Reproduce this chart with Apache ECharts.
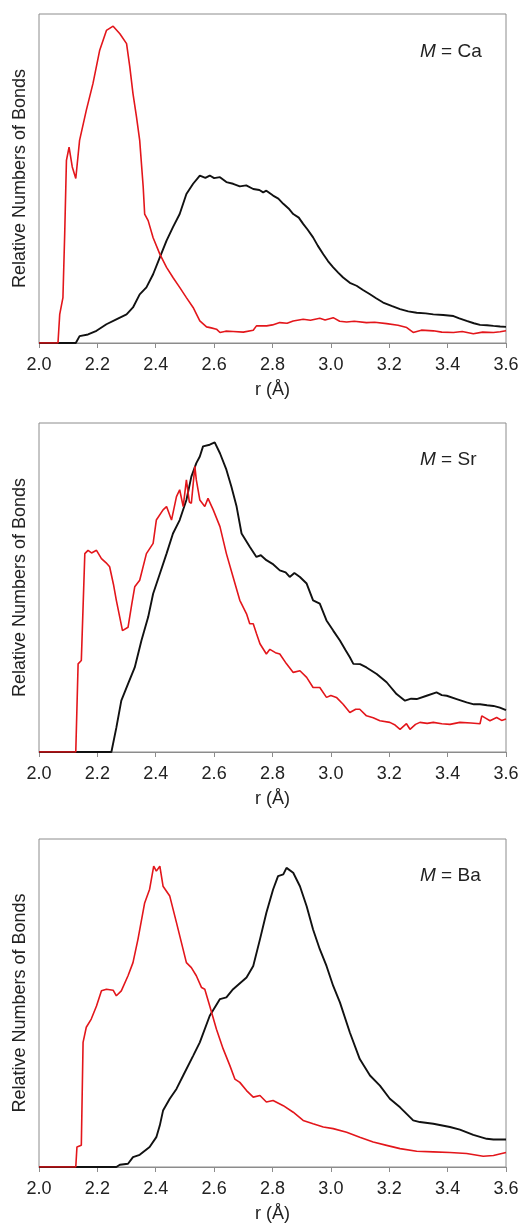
<!DOCTYPE html>
<html>
<head>
<meta charset="utf-8">
<script src="https://cdn.jsdelivr.net/npm/echarts@6/dist/echarts.min.js"></script>
<style>
  html, body { margin: 0; padding: 0; background: #fff; }
  #chart { width: 526px; height: 1224px; }
</style>
</head>
<body>
<div id="chart"></div>
<script>
// x ticks (r, Å)
var rTicks = [2.0, 2.2, 2.4, 2.6, 2.8, 3.0, 3.2, 3.4, 3.6];
var panelLabels = ["Ca", "Sr", "Ba"];

// M = Ca  [r, relative count]
var caRed = [[2.0,0],[2.065,0],[2.071,8.7],[2.082,13.8],[2.088,33],[2.094,55.5],[2.103,59.5],[2.114,53.5],[2.126,50],
  [2.139,61.6],[2.162,70.7],[2.185,78.9],[2.208,89],[2.231,95],[2.254,96.3],[2.277,94],[2.3,91],[2.311,84],
  [2.322,75.8],[2.334,68.7],[2.345,61.6],[2.357,47.4],[2.362,39.2],[2.374,37.2],[2.391,32],[2.414,27],[2.437,23],
  [2.459,19.9],[2.482,16.9],[2.505,13.8],[2.528,10.8],[2.551,6.7],[2.574,4.9],[2.59,4.6],[2.608,4.2],[2.62,3.2],
  [2.64,3.6],[2.665,3.5],[2.7,3.3],[2.734,3.9],[2.745,5.2],[2.78,5.2],[2.8,5.5],[2.825,6.2],[2.85,6.0],[2.871,6.7],
  [2.905,7.2],[2.93,6.9],[2.962,7.5],[2.98,7.0],[3.008,7.7],[3.03,6.6],[3.054,6.4],[3.08,6.6],[3.122,6.2],[3.15,6.3],
  [3.191,5.9],[3.23,5.4],[3.26,4.7],[3.282,3.2],[3.31,3.9],[3.351,3.7],[3.38,3.3],[3.42,3.2],[3.45,3.5],[3.488,2.8],
  [3.52,3.3],[3.557,3.2],[3.58,3.4],[3.6,3.7]];
var caBlack = [[2.0,0],[2.126,0],[2.139,2.1],[2.168,2.6],[2.197,3.7],[2.231,5.7],[2.265,7.2],[2.3,8.7],[2.322,10.8],
  [2.345,14.8],[2.368,16.9],[2.391,20.9],[2.414,26],[2.437,31.1],[2.459,35.2],[2.482,39.2],[2.505,45.3],[2.528,48.4],
  [2.551,50.9],[2.57,50.2],[2.585,50.9],[2.6,50.1],[2.62,50.4],[2.642,48.9],[2.665,48.4],[2.688,47.6],[2.71,47.9],
  [2.734,46.8],[2.755,46.5],[2.768,45.8],[2.779,46.3],[2.802,44.8],[2.82,43.9],[2.837,42.3],[2.855,40.9],[2.871,39.2],
  [2.89,38.1],[2.905,36.2],[2.92,34.5],[2.939,32.1],[2.955,29.6],[2.974,27],[2.99,24.9],[3.008,23],[3.025,21.4],
  [3.042,19.9],[3.065,18.3],[3.088,17.4],[3.11,16.1],[3.134,14.8],[3.155,13.6],[3.179,12.3],[3.21,11.2],[3.237,10.3],
  [3.265,9.6],[3.294,9.2],[3.325,9.0],[3.351,8.7],[3.385,8.5],[3.42,8.2],[3.44,7.5],[3.465,6.7],[3.49,6.0],[3.511,5.5],
  [3.535,5.4],[3.557,5.2],[3.58,5.0],[3.6,4.9]];

// M = Sr
var srRed = [[2.0,0],[2.126,0],[2.134,26.8],[2.145,27.8],[2.157,60.3],[2.168,61.3],[2.18,60.5],[2.197,61.3],[2.214,58.8],
  [2.23,57.5],[2.242,56.3],[2.255,51],[2.265,46.1],[2.286,36.9],[2.305,37.9],[2.318,45],[2.328,50.2],[2.345,52.2],
  [2.368,60.3],[2.391,63.4],[2.402,70.5],[2.425,73.6],[2.437,74.6],[2.454,70.5],[2.471,77.6],[2.482,79.7],[2.494,74.6],
  [2.505,82.7],[2.515,76],[2.522,75.6],[2.534,86.8],[2.539,82.7],[2.551,76.6],[2.568,74.6],[2.579,77.1],[2.597,73.6],
  [2.62,68.5],[2.642,60.3],[2.665,53.2],[2.688,46.1],[2.711,42],[2.722,39],[2.734,39],[2.745,36],[2.757,32.9],
  [2.779,29.8],[2.791,31.2],[2.81,30.2],[2.825,29.8],[2.848,26.8],[2.871,24.2],[2.894,24.7],[2.917,22.7],[2.939,19.6],
  [2.962,19.6],[2.985,16.6],[3.0,17.2],[3.019,16.6],[3.042,14.5],[3.065,12],[3.085,13],[3.099,13],[3.122,11],
  [3.145,10.4],[3.168,9.5],[3.202,9],[3.22,8.2],[3.237,6.9],[3.259,8.6],[3.271,6.9],[3.29,8.4],[3.305,9],[3.33,8.7],
  [3.351,9],[3.38,8.6],[3.408,8.4],[3.442,9],[3.48,8.8],[3.511,8.6],[3.517,11],[3.53,10.3],[3.545,9.5],[3.568,10.5],
  [3.585,9.6],[3.6,10]];
var srBlack = [[2.0,0],[2.248,0],[2.265,7.4],[2.282,15.6],[2.305,20.7],[2.328,25.7],[2.351,33.9],[2.374,41],[2.391,48.1],
  [2.414,54.2],[2.437,60.3],[2.459,66.4],[2.482,70.5],[2.505,76.6],[2.522,83.7],[2.539,87.8],[2.551,89.8],[2.562,92.9],
  [2.585,93.4],[2.602,94.1],[2.62,90.8],[2.642,85.8],[2.659,80.7],[2.677,74.6],[2.694,66.4],[2.722,62.4],[2.745,59.3],
  [2.76,59.8],[2.779,58.3],[2.8,57.2],[2.825,55.2],[2.845,54.6],[2.859,53.2],[2.875,54.4],[2.894,53.2],[2.917,51.2],
  [2.939,46.1],[2.962,45.1],[2.985,40],[3.008,36.9],[3.031,33.9],[3.05,31],[3.065,28.8],[3.077,26.8],[3.1,26.7],
  [3.122,25.7],[3.157,23.7],[3.191,21.2],[3.225,17.6],[3.254,15.6],[3.275,16.2],[3.294,16.1],[3.328,17.1],[3.362,18.1],
  [3.38,17.3],[3.397,17.1],[3.431,16.1],[3.465,15.1],[3.49,14.5],[3.511,14.5],[3.535,14.2],[3.557,14],[3.579,13.5],
  [3.6,12.7]];

// M = Ba
var baRed = [[2.0,0],[2.126,0],[2.13,6.1],[2.145,6.6],[2.151,38],[2.162,42.6],[2.179,45.1],[2.197,49.1],[2.214,53.7],
  [2.231,54.2],[2.254,53.9],[2.265,52.2],[2.282,53.7],[2.305,58.3],[2.322,62.3],[2.339,69.4],[2.362,80.5],[2.379,84.7],
  [2.393,91.7],[2.402,90.2],[2.414,91.7],[2.425,85.6],[2.448,82.6],[2.471,74.5],[2.488,68.4],[2.505,62.3],[2.522,60.8],
  [2.539,58.3],[2.557,54.7],[2.568,54.2],[2.585,49.1],[2.608,42],[2.631,36],[2.654,30.9],[2.671,26.8],[2.688,25.8],
  [2.711,23.3],[2.734,21.3],[2.757,21.8],[2.779,19.8],[2.802,20.3],[2.837,18.7],[2.871,16.7],[2.905,14.2],[2.939,13.2],
  [2.974,12.2],[3.008,11.7],[3.054,10.6],[3.099,9.1],[3.145,7.6],[3.191,6.6],[3.237,5.6],[3.294,4.8],[3.351,4.6],
  [3.408,4.4],[3.465,4.1],[3.522,3.3],[3.557,3.5],[3.6,4.4]];
var baBlack = [[2.0,0],[2.265,0],[2.277,0.7],[2.305,1],[2.322,3],[2.345,3.7],[2.379,6.1],[2.402,9.1],[2.414,12.7],
  [2.425,17.2],[2.448,20.8],[2.471,23.8],[2.494,27.9],[2.528,33.9],[2.551,38],[2.585,46.1],[2.62,51.2],[2.642,51.7],
  [2.665,54.2],[2.711,57.8],[2.734,61.3],[2.757,69.4],[2.779,77.5],[2.802,84.6],[2.819,88.7],[2.837,89.2],[2.848,91.2],
  [2.871,89.7],[2.894,85.6],[2.917,79.5],[2.939,72.4],[2.962,66.4],[2.985,61.3],[3.008,55.2],[3.031,50.2],[3.065,41],
  [3.099,32.9],[3.134,27.9],[3.168,24.8],[3.202,20.8],[3.237,18.2],[3.282,14.2],[3.305,13.7],[3.351,13.2],[3.408,12.2],
  [3.442,11.4],[3.488,9.8],[3.534,8.6],[3.557,8.4],[3.6,8.4]];

var redData = [caRed, srRed, baRed];
var blackData = [caBlack, srBlack, baBlack];

var chart = echarts.init(document.getElementById("chart"));
var font = "'Liberation Sans', Arial, sans-serif";
var tops = [14, 423, 839];
var labelTops = [37, 445, 861];

var grids = [], xAxes = [], yAxes = [], series = [], titles = [];
tops.forEach(function (t, i) {
  grids.push({ left: 39, top: t, width: 467, height: 329, show: true, borderColor: "#8c8c8c", borderWidth: 1 });
  xAxes.push({
    gridIndex: i, type: "value", min: 2.0, max: 3.6, interval: 0.2,
    name: "r (Å)", nameLocation: "middle", nameGap: 38,
    nameTextStyle: { fontFamily: font, fontSize: 18, color: "#222" },
    axisLine: { show: true, lineStyle: { color: "#8c8c8c", width: 1 } },
    axisTick: { show: true, inside: false, length: 5, lineStyle: { color: "#8c8c8c" } },
    axisLabel: {
      margin: 13, fontFamily: font, fontSize: 18, color: "#222",
      formatter: function (v) { return v.toFixed(1); }
    },
    splitLine: { show: false }
  });
  yAxes.push({
    gridIndex: i, type: "value", min: 0, max: 100,
    name: "Relative Numbers of Bonds", nameLocation: "middle", nameGap: 10,
    nameTextStyle: { fontFamily: font, fontSize: 18, color: "#222" },
    axisLine: { show: false }, axisTick: { show: false },
    axisLabel: { show: false }, splitLine: { show: false }
  });
  series.push({
    type: "line", xAxisIndex: i, yAxisIndex: i, data: redData[i],
    showSymbol: false, smooth: false, lineStyle: { color: "#e3161b", width: 1.6 }, z: 3
  });
  series.push({
    type: "line", xAxisIndex: i, yAxisIndex: i, data: blackData[i],
    showSymbol: false, smooth: false, lineStyle: { color: "#111", width: 1.9 }, z: 2
  });
  titles.push({
    text: "{i|M} = " + panelLabels[i], left: 415, top: labelTops[i],
    textStyle: {
      fontFamily: font, fontSize: 19, fontWeight: "normal", color: "#222",
      rich: { i: { fontFamily: font, fontSize: 19, fontStyle: "italic", color: "#222" } }
    }
  });
});

var option = {
  animation: false,
  backgroundColor: "#fff",
  title: titles,
  grid: grids,
  xAxis: xAxes,
  yAxis: yAxes,
  series: series
};
chart.setOption(option);
window.addEventListener("resize", function () {
  chart.resize();
});
</script>
</body>
</html>
